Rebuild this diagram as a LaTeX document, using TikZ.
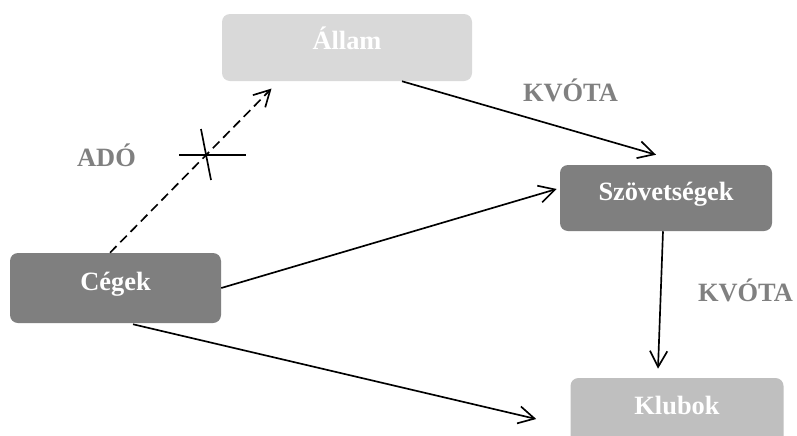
\documentclass[tikz,border=0pt]{standalone}
\usepackage{fontspec}
\setmainfont{Liberation Serif}
\usetikzlibrary{arrows.meta,calc}
\definecolor{darkbox}{HTML}{7F7F7F}
\definecolor{lightbox}{HTML}{D9D9D9}
\definecolor{midbox}{HTML}{BFBFBF}
\definecolor{lbl}{HTML}{808080}
\tikzset{
  box/.style={rounded corners=6pt, draw=none, text=white, inner sep=0pt,
    font=\fontsize{19.8}{24}\selectfont\bfseries, text height=0.6em, text depth=0.3em},
  lab/.style={text=lbl, inner sep=0pt, anchor=base, font=\fontsize{19.8}{24}\selectfont\bfseries},
  arr/.style={line width=1.25pt, -{Straight Barb[length=12pt,width=13pt]}},
  crossline/.style={line width=1.25pt}
}
\begin{document}
\begin{tikzpicture}[x=0.75pt,y=-0.75pt]
\useasboundingbox (0,0) rectangle (797,436);
\clip (0,0) rectangle (797,436);
\fill[white] (0,0) rectangle (797,436);
\node[box, fill=lightbox, minimum width=187.5pt, minimum height=50.25pt] (allam) at (347,47.5) {Állam};
\node[box, fill=darkbox, minimum width=158.25pt, minimum height=52.5pt] (cegek) at (115.5,288) {Cégek};
\node[box, fill=darkbox, minimum width=159pt, minimum height=49.5pt] (szov) at (666,198) {Szövetségek};
\node[box, fill=midbox, minimum width=159.75pt, minimum height=51pt] (klubok) at (677,412) {Klubok};
\node[lab] (kvota1) at (570.5,101.5) {KVÓTA};
\node[lab] (ado) at (106.5,166.5) {ADÓ};
\node[lab] (kvota2) at (745.5,301.5) {KVÓTA};
\draw[arr, dash pattern=on 7pt off 4pt] ($(cegek.north)+(-5.5,0)$) -- ($(allam.south)+(-75.5,7.3)$);
\draw[arr] ($(allam.south)+(55,0)$) -- ($(szov.north)+(-10,-10)$);
\draw[arr] (cegek.east) -- ($(szov.west)+(-3,-9)$);
\draw[arr] ($(szov.south)+(-3,0)$) -- ($(klubok.north)+(-19,-9)$);
\draw[arr] ($(cegek.south)+(17.5,1)$) -- ($(klubok.west)+(-34,7)$);
\coordinate (cross) at (206,155);
\draw[crossline] ($(cross)+(-27,0)$) -- ($(cross)+(40,0)$);
\draw[crossline] ($(cross)+(-5,-26)$) -- ($(cross)+(5,25)$);
\end{tikzpicture}
\end{document}
